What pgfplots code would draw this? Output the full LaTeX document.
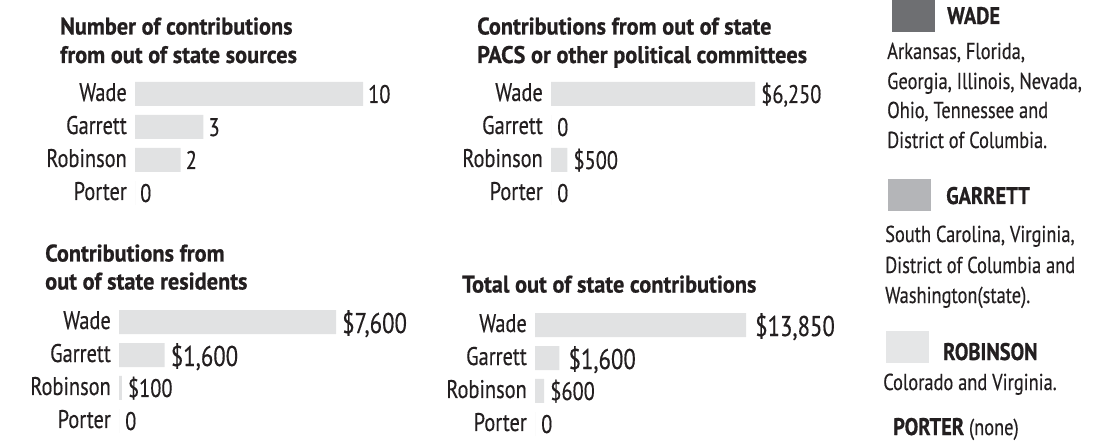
\documentclass[border=0pt]{standalone}
\usepackage{pgfplots}
\pgfplotsset{compat=1.18}
\usepackage{fontspec}
\setmainfont{PT Sans}
\newfontfamily\labfont{PT Sans}[FakeStretch=0.8, FakeBold=0.4]
\newfontfamily\ttlfont{PT Sans}[FakeStretch=0.93, FakeBold=0.7]
\newfontfamily\headfont{PT Sans}[FakeStretch=0.85, FakeBold=0.7]
\definecolor{barg}{HTML}{E1E2E3}
\definecolor{wadec}{HTML}{6E6F72}
\definecolor{garrettc}{HTML}{B4B5B8}
\definecolor{robc}{HTML}{E5E6E7}
\definecolor{txt}{HTML}{231F20}
\newcommand{\labsize}{\labfont\fontsize{25.5}{26}\selectfont}
\newcommand{\bigsize}{\labfont\fontsize{28.5}{29}\selectfont}
\newcommand{\ttlsize}{\ttlfont\bfseries\fontsize{24}{26}\selectfont}
\newcommand{\legsize}{\labfont\fontsize{23}{26}\selectfont}
\newcommand{\leghead}{\headfont\bfseries\fontsize{24}{26}\selectfont}
\pgfplotsset{
  panel/.style={
    scale only axis, clip=false,
    y dir=reverse, ymin=-0.5, ymax=3.5, height=132pt,
    xmin=0,
    axis line style={draw=none},
    major tick length=0pt,
    xtick=\empty,
    ytick={0,1,2,3}, yticklabels={Wade,Garrett,Robinson,Porter},
    yticklabel style={font=\labsize, text=txt, anchor=base east, inner sep=0pt, xshift=-8pt, yshift=-7pt},
    anchor=north west,
  },
  hbar/.style={xbar, bar width=24pt, fill=barg, draw=none, bar shift=0pt,
    nodes near coords, point meta=explicit symbolic,
    nodes near coords style={font=\labsize, text=txt, anchor=base west, inner sep=0pt, xshift=#1, yshift=-9pt}},
  bighbar/.style={hbar=#1,
    nodes near coords style={font=\bigsize, yshift=-2pt}},
}
\begin{document}
\begin{tikzpicture}
\useasboundingbox (0pt,0pt) rectangle (1097pt,-446pt);
% Panel 1
\node[anchor=base west, font=\ttlsize, text=txt, inner sep=0pt] at (60pt,-34.5pt) {Number of contributions};
\node[anchor=base west, font=\ttlsize, text=txt, inner sep=0pt] at (60pt,-63pt) {from out of state sources};
\begin{axis}[panel, at={(135pt,-77.5pt)}, width=228pt, xmax=10]
\addplot[hbar=5pt] table[x=v, y=i, meta=lab, row sep=\\]{
i v lab\\
0 10 10\\
1 3 3\\
2 2 2\\
3 0 0\\
};
\end{axis}
% Panel 2
\node[anchor=base west, font=\ttlsize, text=txt, inner sep=0pt] at (477pt,-34.5pt) {Contributions from out of state};
\node[anchor=base west, font=\ttlsize, text=txt, inner sep=0pt] at (477pt,-63pt) {PACS or other political committees};
\begin{axis}[panel, at={(551pt,-77.5pt)}, width=204pt, xmax=6250]
\addplot[hbar=6pt] table[x=v, y=i, meta=lab, row sep=\\]{
i v lab\\
0 6250 \$6,250\\
1 0 0\\
2 500 \$500\\
3 0 0\\
};
\end{axis}
% Panel 3
\node[anchor=base west, font=\ttlsize, text=txt, inner sep=0pt] at (45pt,-261.5pt) {Contributions from};
\node[anchor=base west, font=\ttlsize, text=txt, inner sep=0pt] at (45pt,-289.5pt) {out of state residents};
\begin{axis}[panel, at={(119pt,-305.5pt)}, width=217pt, xmax=7600]
\addplot[bighbar=6pt] table[x=v, y=i, meta=lab, row sep=\\]{
i v lab\\
0 7600 \$7,600\\
1 1600 \$1,600\\
};
\addplot[hbar=6pt] table[x=v, y=i, meta=lab, row sep=\\]{
i v lab\\
2 100 \$100\\
3 0 0\\
};
\end{axis}
% Panel 4
\node[anchor=base west, font=\ttlsize, text=txt, inner sep=0pt] at (462pt,-292.5pt) {Total out of state contributions};
\begin{axis}[panel, at={(535pt,-308.5pt)}, width=211pt, xmax=13850]
\addplot[bighbar=9pt] table[x=v, y=i, meta=lab, row sep=\\]{
i v lab\\
0 13850 \$13,850\\
1 1600 \$1,600\\
};
\addplot[hbar=6pt] table[x=v, y=i, meta=lab, row sep=\\]{
i v lab\\
2 600 \$600\\
3 0 0\\
};
\end{axis}
% Legend
\fill[wadec] (892pt,0pt) rectangle (935pt,-32pt);
\node[anchor=base west, font=\leghead, text=txt, inner sep=0pt] at (947pt,-24pt) {WADE};
\node[anchor=base west, font=\legsize, text=txt, inner sep=0pt] at (887pt,-59pt) {Arkansas, Florida,};
\node[anchor=base west, font=\legsize, text=txt, inner sep=0pt] at (887pt,-89pt) {Georgia, Illinois, Nevada,};
\node[anchor=base west, font=\legsize, text=txt, inner sep=0pt] at (887pt,-118pt) {Ohio, Tennessee and};
\node[anchor=base west, font=\legsize, text=txt, inner sep=0pt] at (887pt,-148pt) {District of Columbia.};
\fill[garrettc] (888pt,-179pt) rectangle (931pt,-211pt);
\node[anchor=base west, font=\leghead, text=txt, inner sep=0pt] at (946pt,-204pt) {GARRETT};
\node[anchor=base west, font=\legsize, text=txt, inner sep=0pt] at (885pt,-242pt) {South Carolina, Virginia,};
\node[anchor=base west, font=\legsize, text=txt, inner sep=0pt] at (885pt,-273pt) {District of Columbia and};
\node[anchor=base west, font=\legsize, text=txt, inner sep=0pt] at (885pt,-303pt) {Washington(state).};
\fill[robc] (886pt,-331pt) rectangle (929pt,-363pt);
\node[anchor=base west, font=\leghead, text=txt, inner sep=0pt] at (943pt,-360pt) {ROBINSON};
\node[anchor=base west, font=\legsize, text=txt, inner sep=0pt] at (883pt,-390pt) {Colorado and Virginia.};
\node[anchor=base west, font=\legsize, text=txt, inner sep=0pt] at (893pt,-435pt) {{\leghead PORTER} (none)};
\end{tikzpicture}
\end{document}
